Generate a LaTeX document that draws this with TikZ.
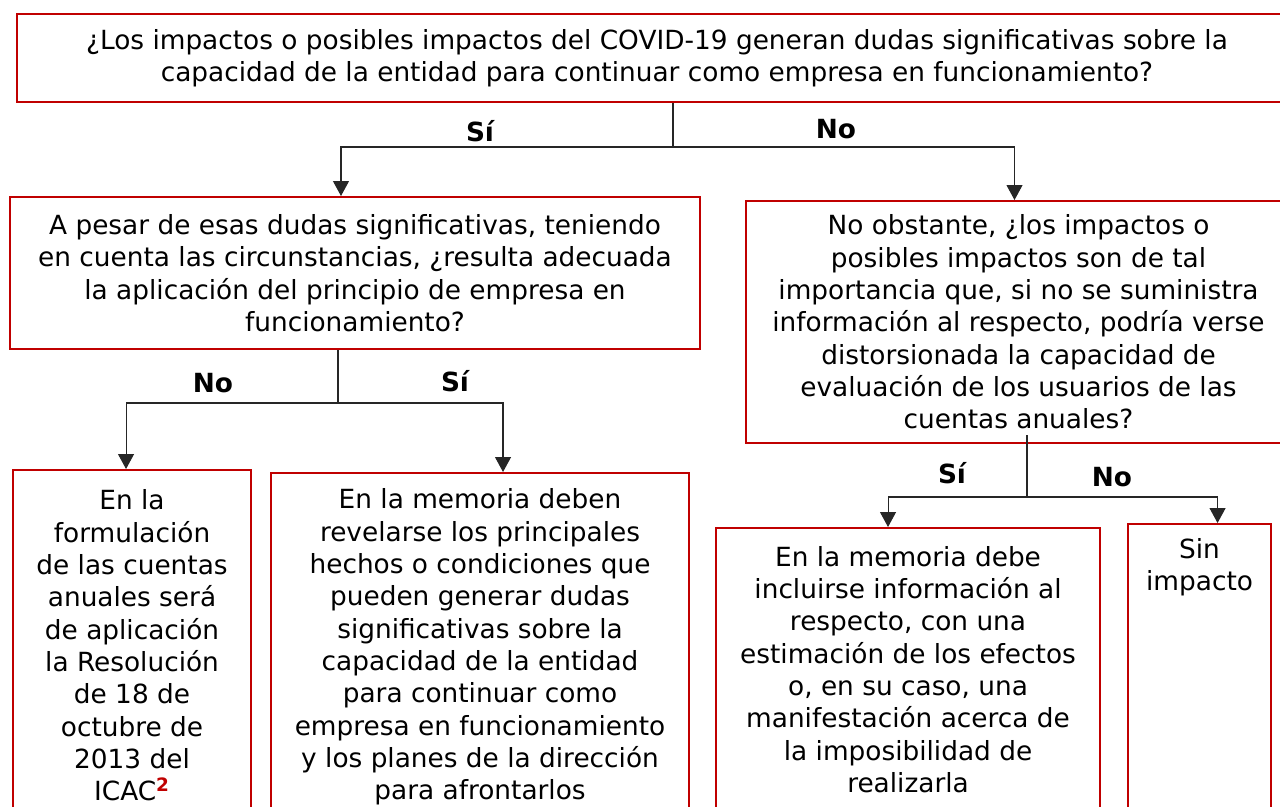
\documentclass[tikz,border=0pt]{standalone}
\usepackage{fontspec}
\setmainfont{DejaVu Sans}
\usepackage{tikz}
\usetikzlibrary{arrows.meta,calc}
\definecolor{boxred}{HTML}{C00000}

\begin{document}
\begin{tikzpicture}[x=0.02cm,y=-0.02cm,
    box/.style={draw=boxred,line width=1.2pt,align=center,anchor=north west,inner sep=0pt,
      font=\fontsize{15}{18.4}\selectfont},
    link/.style={draw=black!85,line width=0.6pt},
    arr/.style={link,-{Triangle[length=0.3cm,width=0.32cm]}},
    answer/.style={font=\fontsize{15}{18.4}\selectfont\bfseries}]
  \clip (0,0) rectangle (1280,806);
  \node[box,minimum width=25.6cm,minimum height=1.76cm] (q1) at (16,13)
    {¿Los impactos o posibles impactos del COVID-19 generan dudas significativas sobre la\\
     capacidad de la entidad para continuar como empresa en funcionamiento?};
  \node[box,minimum width=13.8cm,minimum height=3.04cm] (q2) at (9,196)
    {A pesar de esas dudas significativas, teniendo\\
     en cuenta las circunstancias, ¿resulta adecuada\\
     la aplicación del principio de empresa en\\
     funcionamiento?};
  \node[box,minimum width=10.9cm,minimum height=4.84cm] (q3) at (745,200)
    {No obstante, ¿los impactos o\\
     posibles impactos son de tal\\
     importancia que, si no se suministra\\
     información al respecto, podría verse\\
     distorsionada la capacidad de\\
     evaluación de los usuarios de las\\
     cuentas anuales?};
  \node[box,minimum width=4.76cm,minimum height=7.02cm] (q4) at (12,469)
    {En la\\ formulación\\ de las cuentas\\ anuales será\\ de aplicación\\
     la Resolución\\ de 18 de\\ octubre de\\ 2013 del\\
     ICAC\textsuperscript{\textcolor{boxred}{\bfseries 2}}};
  \node[box,minimum width=8.36cm,minimum height=6.96cm] (q5) at (270,472)
    {En la memoria deben\\ revelarse los principales\\ hechos o condiciones que\\
     pueden generar dudas\\ significativas sobre la\\ capacidad de la entidad\\
     para continuar como\\ empresa en funcionamiento\\ y los planes de la dirección\\
     para afrontarlos};
  \node[box,minimum width=7.68cm,minimum height=5.66cm] (q6) at (715,527)
    {En la memoria debe\\ incluirse información al\\ respecto, con una\\
     estimación de los efectos\\ o, en su caso, una\\ manifestación acerca de\\
     la imposibilidad de\\ realizarla};
  \node[box,minimum width=2.86cm,inner ysep=0.28cm,text depth=5cm] (q7) at (1127,523)
    {Sin\\ impacto};

  \node[answer] (a1) at (480,131) {Sí};
  \node[answer] (a2) at (836,129) {No};
  \node[answer] (a3) at (213,383) {No};
  \node[answer] (a4) at (455,381) {Sí};
  \node[answer] (a5) at (952,473) {Sí};
  \node[answer] (a6) at (1112,477) {No};

  \coordinate (j1) at (673,147);
  \draw[link] (q1.south -| j1) -- (j1);
  \draw[arr] (j1) -| ($(q2.north)+(-14,0)$);
  \draw[arr] (j1) -| ($(q3.north)+(-4,0)$);
  \coordinate (j2) at (338,403);
  \draw[link] (q2.south -| j2) -- (j2);
  \draw[arr] (j2) -| ($(q4.north)+(-6,0)$);
  \draw[arr] (j2) -| ($(q5.north)+(23,0)$);
  \coordinate (j3) at (1027,497);
  \draw[link] ($(q3.south -| j3)+(0,-9)$) -- (j3);
  \draw[arr] (j3) -| ($(q6.north)+(-20,0)$);
  \draw[arr] (j3) -| ($(q7.north)+(18,0)$);
\end{tikzpicture}
\end{document}
